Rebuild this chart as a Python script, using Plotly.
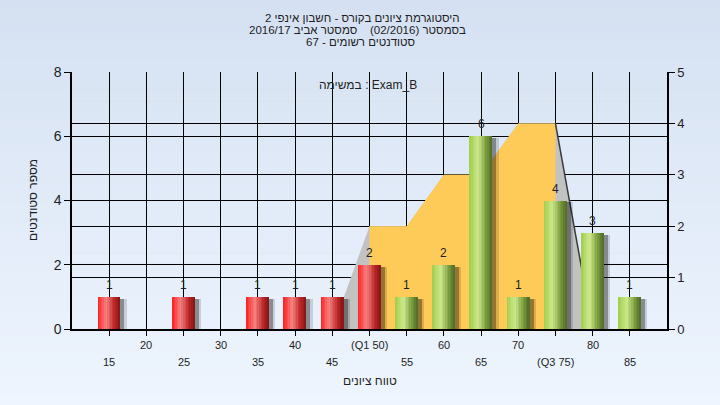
import plotly.graph_objects as go

# ---------------- data ----------------
scores = [15, 20, 25, 30, 35, 40, 45, 50, 55, 60, 65, 70, 75, 80, 85]
counts = [1, 0, 1, 0, 1, 1, 1, 2, 1, 2, 6, 1, 4, 3, 1]
tick_labels = ["15", "20", "25", "30", "35", "40", "45", "(Q1 50)", "55", "60",
               "65", "70", "(Q3 75)", "80", "85"]
q1 = 50
q3 = 75
band_x = [45, 50, 55, 60, 65, 70, 75, 80]
band_y = [0, 2, 2, 3, 3, 4, 4, 0]

# title pieces, written in the order they appear on screen (left to right)
title_line1 = "2 היסטוגרמת ציונים בקורס - חשבון אינפי"
title_line2a = "2016/17 סמסטר אביב"
title_line2b = "(02/2016) בסמסטר"
title_line3 = "67 - סטודנטים רשומים"
task_label = "במשימה : Exam_B"
x_title = "טווח ציונים"
y_title = "מספר סטודנטים"

# ---------------- layout constants ----------------
W, H = 720, 405
ML, MR, MT, MB = 72, 53, 72, 76
PW, PH = W - ML - MR, H - MT - MB
FONT = "Liberation Sans, DejaVu Sans, Arial, sans-serif"
TXT = "#1e1e24"


def py(pix):
    return (H - MB - pix) / PH


def px(pix):
    return (pix - ML) / PW


def mix(c1, c2, t):
    return tuple(int(round(a + (b - a) * t)) for a, b in zip(c1, c2))


def grad(stops, t):
    for (t0, c0), (t1, c1) in zip(stops, stops[1:]):
        if t <= t1:
            return mix(c0, c1, (t - t0) / (t1 - t0))
    return stops[-1][1]


red_stops = [(0.0, (255, 30, 30)), (0.38, (245, 130, 130)), (0.75, (190, 40, 40)), (1.0, (130, 20, 20))]
green_stops = [(0.0, (160, 205, 75)), (0.38, (205, 232, 140)), (0.75, (120, 155, 60)), (1.0, (80, 105, 40))]

fig = go.Figure()

# background gradient of the page
NB = 40
for i in range(NB):
    t = i / (NB - 1)
    c = mix((213, 225, 242), (238, 245, 254), t)
    y0 = 1 + MT / PH - i * (H / PH) / NB
    y1 = 1 + MT / PH - (i + 1) * (H / PH) / NB
    fig.add_shape(type="rect", xref="paper", yref="paper",
                  x0=-ML / PW, x1=1 + MR / PW, y0=y1 - 0.002, y1=y0,
                  fillcolor="rgb(%d,%d,%d)" % c, line_width=0, layer="below")

# interquartile band (main y axis, right side 0..5)
fig.add_trace(go.Scatter(x=band_x, y=band_y, fill="toself", fillcolor="#c2c2c2",
                         mode="lines", line=dict(width=0), hoverinfo="skip", yaxis="y"))
iq_x = [q1] + [x for x in band_x if q1 <= x <= q3] + [q3]
iq_y = [0] + [y for x, y in zip(band_x, band_y) if q1 <= x <= q3] + [0]
fig.add_trace(go.Scatter(x=iq_x, y=iq_y, fill="toself", fillcolor="#fecb58",
                         mode="lines", line=dict(width=0), hoverinfo="skip", yaxis="y"))
fig.add_trace(go.Scatter(x=band_x[-2:], y=band_y[-2:], mode="lines",
                         line=dict(color="#3a3a3a", width=1.5), hoverinfo="skip", yaxis="y"))

# bar shadows
shadow_y = [c - 0.06 if c > 0 else 0 for c in counts]
fig.add_trace(go.Bar(x=scores, y=shadow_y, width=3.5, offset=-1.5 + 0.35,
                     marker=dict(color="rgba(0,0,0,0.14)", line=dict(width=0)),
                     yaxis="y2", hoverinfo="skip"))
fig.add_trace(go.Bar(x=scores, y=shadow_y, width=3.0, offset=-1.5 + 0.55,
                     marker=dict(color="rgba(0,0,0,0.32)", line=dict(width=0)),
                     yaxis="y2", hoverinfo="skip"))

# bars with cylindrical gradient drawn as strips
NS = 14
BW = 3.0
sw = BW / NS
for i in range(NS):
    t = (i + 0.5) / NS
    rc = "rgb(%d,%d,%d)" % grad(red_stops, t)
    gc = "rgb(%d,%d,%d)" % grad(green_stops, t)
    cols = [rc if s <= q1 else gc for s in scores]
    fig.add_trace(go.Bar(x=scores, y=counts, width=sw * 1.08, offset=-BW / 2 + i * sw,
                         marker=dict(color=cols, line=dict(width=0)),
                         yaxis="y2", hoverinfo="skip"))

annotations = []
# value labels
for s, c in zip(scores, counts):
    if c > 0:
        annotations.append(dict(text=str(c), xref="x", yref="y2", x=s, y=c, yshift=12,
                                showarrow=False, xanchor="center", yanchor="middle",
                                font=dict(family=FONT, size=12, color=TXT)))
# title
tf = dict(family=FONT, size=11.5, color=TXT)
annotations.append(dict(text=title_line1, xref="paper", yref="paper", x=px(362), y=py(18),
                        showarrow=False, xanchor="center", yanchor="middle", font=tf,
                        borderpad=0))
annotations.append(dict(text=title_line2a, xref="paper", yref="paper", x=px(358), y=py(30),
                        showarrow=False, xanchor="right", yanchor="middle", font=tf,
                        borderpad=0))
annotations.append(dict(text=title_line2b, xref="paper", yref="paper", x=px(369), y=py(30),
                        showarrow=False, xanchor="left", yanchor="middle", font=tf,
                        borderpad=0))
annotations.append(dict(text=title_line3, xref="paper", yref="paper", x=px(360), y=py(42),
                        showarrow=False, xanchor="center", yanchor="middle", font=tf,
                        borderpad=0))
# task label
annotations.append(dict(text=task_label, xref="paper", yref="paper", x=px(368), y=py(85),
                        showarrow=False, xanchor="center", yanchor="middle",
                        font=dict(family=FONT, size=12, color=TXT)))
# x tick labels staggered on two rows
for i, (s, lab) in enumerate(zip(scores, tick_labels)):
    row_pix = 345 if i % 2 == 1 else 362
    annotations.append(dict(text=lab, xref="x", yref="paper", x=s, y=py(row_pix),
                            showarrow=False, xanchor="center", yanchor="middle",
                            font=dict(family=FONT, size=11, color=TXT)))
# axis titles
annotations.append(dict(text=x_title, xref="paper", yref="paper", x=px(370), y=py(381),
                        showarrow=False, xanchor="center", yanchor="middle",
                        font=dict(family=FONT, size=12, color=TXT)))
annotations.append(dict(text=y_title, xref="paper", yref="paper", x=px(33), y=py(200),
                        showarrow=False, xanchor="center", yanchor="middle", textangle=-90,
                        font=dict(family=FONT, size=12, color=TXT)))

fig.update_layout(
    width=W, height=H,
    margin=dict(l=ML, r=MR, t=MT, b=MB, pad=0),
    paper_bgcolor="#e2ebf7",
    plot_bgcolor="#b3b3b3",
    barmode="overlay",
    bargap=0,
    showlegend=False,
    annotations=annotations,
    xaxis=dict(range=[10, 90], tickvals=scores, showticklabels=False,
               ticks="outside", ticklen=5, tickcolor="black", tickwidth=1,
               showline=True, linecolor="black", linewidth=1.5,
               showgrid=True, gridcolor="black", gridwidth=1, zeroline=False),
    yaxis=dict(range=[0, 5], dtick=1, side="right", ticks="outside", ticklen=6,
               tickcolor="black", showline=True, linecolor="black", linewidth=1.5,
               showgrid=True, gridcolor="black", gridwidth=1, zeroline=False,
               tickfont=dict(family=FONT, size=13, color=TXT),
               # minor grid at the positions of the left axis ticks (0,2,4,6,8 -> 0..5)
               minor=dict(dtick=1.25, showgrid=True, gridcolor="black", gridwidth=1, ticks="")),
    yaxis2=dict(range=[0, 8], dtick=2, side="left", overlaying="y", ticks="outside",
                ticklen=6, tickcolor="black", showline=True, linecolor="black",
                linewidth=1.5, showgrid=False, zeroline=False,
                tickfont=dict(family=FONT, size=14, color=TXT)),
)

fig.write_html("out.html", config={"displayModeBar": False},
               post_script="document.body.style.margin='0';")
